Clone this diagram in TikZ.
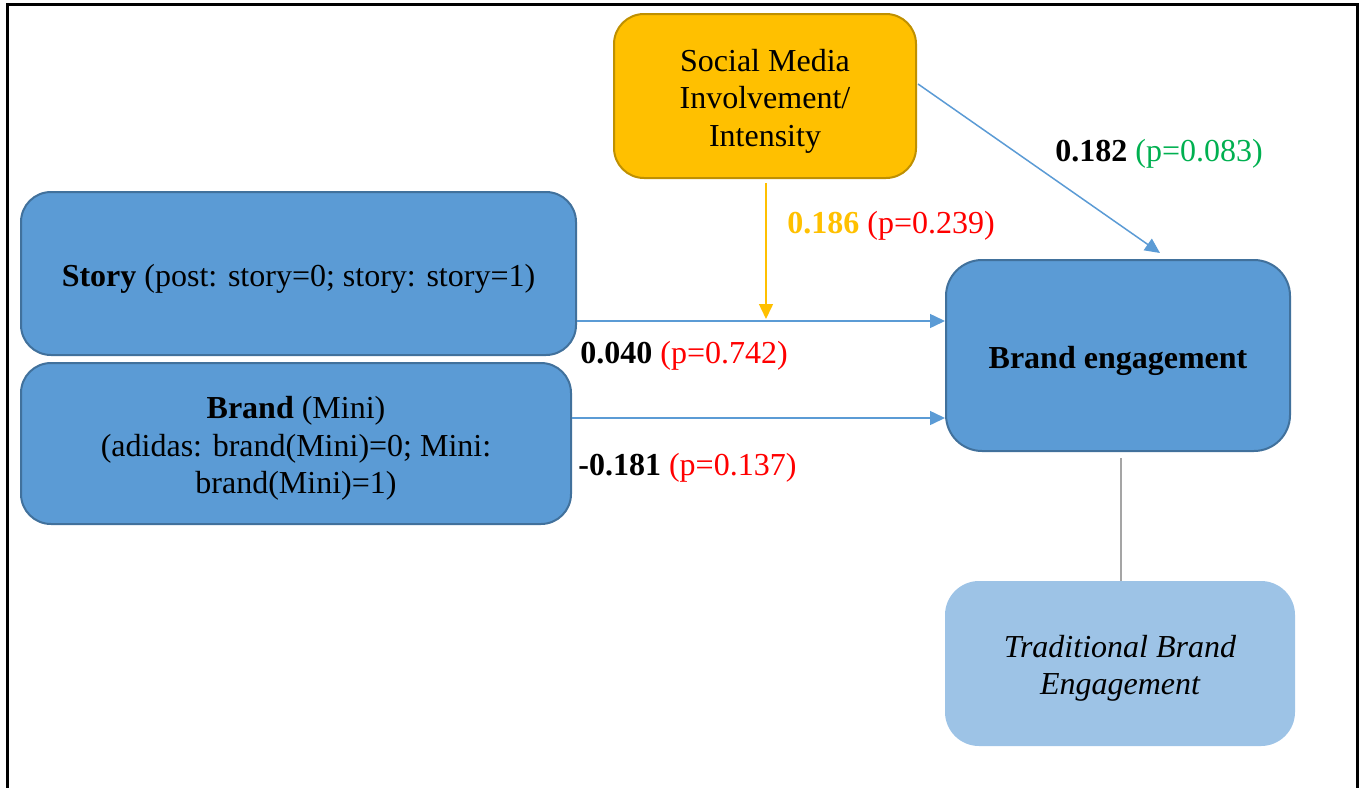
\documentclass[tikz,border=0pt]{standalone}
\usepackage{fontspec}
\setmainfont{Liberation Serif}
\usetikzlibrary{arrows.meta,calc}
\definecolor{boxblue}{HTML}{5B9BD5}
\definecolor{boxblueline}{HTML}{41719C}
\definecolor{gold}{HTML}{FFC000}
\definecolor{goldline}{HTML}{BF9000}
\definecolor{lightblue}{HTML}{9DC3E6}
\definecolor{pred}{HTML}{FF0000}
\definecolor{pgreen}{HTML}{00B050}
\definecolor{linkgray}{HTML}{A5A5A5}
% centred lines of box text, set a little below the geometric centre
\newcommand{\boxlines}[1]{\raisebox{-2.5pt}[\height][\depth]{\begin{tabular}{@{}c@{}}#1\end{tabular}}}
\tikzset{
  txt/.style={font=\fontsize{16}{18.75}\selectfont, inner sep=0pt},
  bluebox/.style={txt, fill=boxblue, draw=boxblueline, line width=1pt, rounded corners=15pt},
  goldbox/.style={txt, fill=gold, draw=goldline, line width=1pt, rounded corners=15pt},
  palebox/.style={txt, fill=lightblue, rounded corners=17pt},
  bluearrow/.style={draw=boxblue, line width=0.75pt, -{Triangle[length=7.5pt,width=7pt]}},
  goldarrow/.style={draw=gold, line width=0.75pt, -{Triangle[length=7.5pt,width=7pt]}},
  link/.style={draw=linkgray, line width=0.75pt},
  coef/.style={txt, anchor=west}
}
\begin{document}
\begin{tikzpicture}[x=0.5pt,y=-0.5pt]
\useasboundingbox (0,0) rectangle (1364,787);
% outer frame
\draw[line width=1.5pt] (7,800) -- (7,4) -- (1357,4) -- (1357,800);

% boxes
\node[goldbox, minimum width=151pt, minimum height=82pt] (sm) at (765,96)
  {\boxlines{Social Media\\Involvement/\\Intensity}};
\node[bluebox, minimum width=277.5pt, minimum height=81.5pt] (story) at (298.5,273.5)
  {\boxlines{\textbf{Story} (post: story=0; story: story=1)}};
\node[bluebox, minimum width=275pt, minimum height=80.5pt] (brand) at (296,443.5)
  {\boxlines{\textbf{Brand} (Mini)\\(adidas: brand(Mini)=0; Mini:\\brand(Mini)=1)}};
\node[bluebox, minimum width=172pt, minimum height=95.5pt, rounded corners=18pt] (be) at (1118,355.5)
  {\boxlines{\textbf{Brand engagement}}};
\node[palebox, minimum width=175pt, minimum height=82.5pt] (tbe) at (1120,663.5)
  {\boxlines{\itshape Traditional Brand\\\itshape Engagement}};

% path levels
\coordinate (ystory) at (0,321);
\coordinate (ybrand) at (0,418);

% connectors
\draw[bluearrow] (story.east |- ystory) -- (be.west |- ystory);
\draw[bluearrow] (brand.east |- ybrand) -- (be.west |- ybrand);
\draw[goldarrow] ($(sm.south)+(1,4)$) -- ($(sm.south |- ystory)+(1,-2)$);
\draw[bluearrow] ($(sm.east)+(1,-12)$) -- ($(be.north)+(42,-6)$);
\draw[link] ($(be.south)+(3,6)$) -- (tbe.north -| {$(be.south)+(3,0)$});

% coefficients
\node[coef] (c1) at (1055,154) {\textbf{0.182} \textcolor{pgreen}{(p=0.083)}};
\node[coef] (c2) at (787,226) {\textcolor{gold}{\textbf{0.186}} \textcolor{pred}{(p=0.239)}};
\node[coef] (c3) at (580,356) {\textbf{0.040} \textcolor{pred}{(p=0.742)}};
\node[coef] (c4) at (578,468) {\textbf{-0.181} \textcolor{pred}{(p=0.137)}};
\end{tikzpicture}
\end{document}
